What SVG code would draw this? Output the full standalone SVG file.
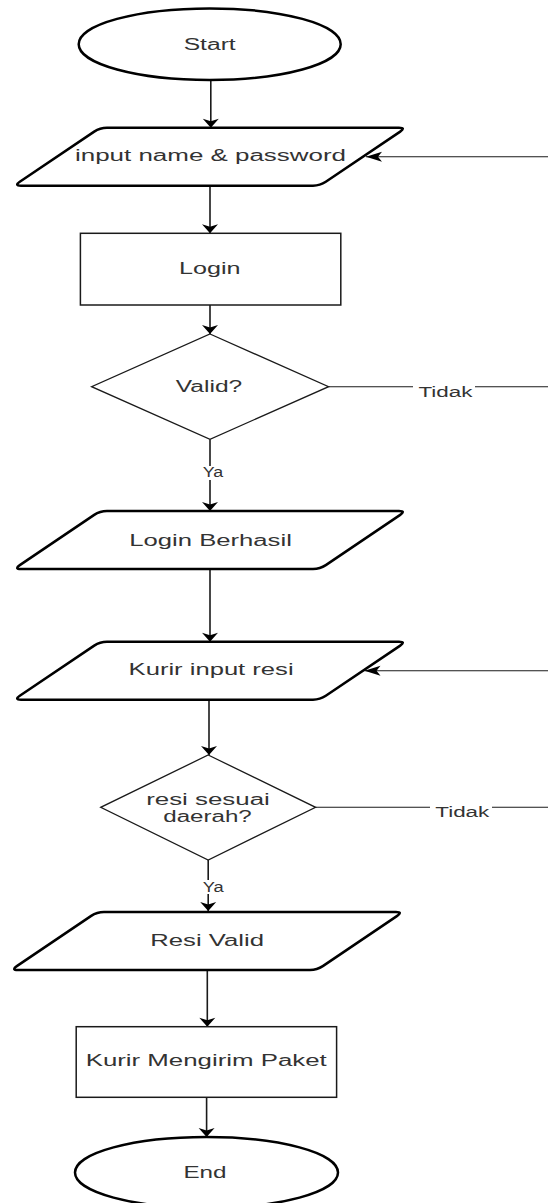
<svg xmlns="http://www.w3.org/2000/svg" xmlns:xlink="http://www.w3.org/1999/xlink" width="548" height="1203" viewBox="0 0 548 1203">
  <style>
    .bg { fill: #ffffff; }
    .term { fill: #ffffff; stroke: #000000; stroke-width: 2.5; }
    .io { fill: #ffffff; stroke: #000000; stroke-width: 2.5; }
    .proc { fill: #ffffff; stroke: #1a1a1a; stroke-width: 1.5; }
    .dec { fill: #ffffff; stroke: #1a1a1a; stroke-width: 1.3; }
    .edge { fill: none; stroke: #1a1a1a; stroke-width: 1.6; }
    .edge-h { fill: none; stroke: #1a1a1a; stroke-width: 1.1; }
    .lbl-bg { fill: #ffffff; }
    .t { font-family: "Liberation Sans", Arial, Helvetica, sans-serif; font-size: 16px; fill: #333333; text-anchor: middle; }
    .lbl { font-family: "Liberation Sans", Arial, Helvetica, sans-serif; font-size: 14px; fill: #333333; text-anchor: middle; }
  </style>
  <defs>
    <!-- wide, short head for downward connectors -->
    <marker id="arrV" markerUnits="userSpaceOnUse" orient="auto" refX="9" refY="0" markerWidth="12" markerHeight="20" overflow="visible">
      <path d="M0,-8 L9,0 L0,8 L2.5,0 Z" fill="#000000"/>
    </marker>
    <!-- long, narrow head for the horizontal return connectors -->
    <marker id="arrH" markerUnits="userSpaceOnUse" orient="auto" refX="16" refY="0" markerWidth="20" markerHeight="12" overflow="visible">
      <path d="M0,-5 L16,0 L0,5 L4,0 Z" fill="#000000"/>
    </marker>
    <!-- rounded input/output parallelogram, top edge at y=0 -->
    <path id="para" d="M21,58 Q14,58 19.8,54.1 L94.2,3.9 Q100,0 107,0 L399,0 Q406,0 400.2,3.9 L325.8,54.1 Q320,58 313,58 Z"/>
  </defs>

  <rect class="bg" x="0" y="0" width="548" height="1203"/>

  <g id="connectors">
    <line class="edge" x1="210.8" y1="80" x2="210.8" y2="127.7" marker-end="url(#arrV)"/>
    <line class="edge" x1="210" y1="185" x2="210" y2="233.3" marker-end="url(#arrV)"/>
    <line class="edge" x1="210" y1="305" x2="210" y2="334" marker-end="url(#arrV)"/>
    <line class="edge" x1="210" y1="439.3" x2="210" y2="511" marker-end="url(#arrV)"/>
    <line class="edge-h" x1="328.6" y1="386.7" x2="548" y2="386.7"/>
    <line class="edge-h" x1="548" y1="156.7" x2="366" y2="156.7" marker-end="url(#arrH)"/>
    <line class="edge" x1="210" y1="569.3" x2="210" y2="641.7" marker-end="url(#arrV)"/>
    <line class="edge-h" x1="548" y1="670.7" x2="364.5" y2="670.7" marker-end="url(#arrH)"/>
    <line class="edge" x1="209" y1="699.3" x2="209" y2="755" marker-end="url(#arrV)"/>
    <line class="edge-h" x1="315.6" y1="807.3" x2="548" y2="807.3"/>
    <line class="edge" x1="208.2" y1="860" x2="208.2" y2="911" marker-end="url(#arrV)"/>
    <line class="edge" x1="207.3" y1="970.7" x2="207.3" y2="1026.7" marker-end="url(#arrV)"/>
    <line class="edge" x1="206.6" y1="1097.3" x2="206.6" y2="1137" marker-end="url(#arrV)"/>

    <!-- branch labels -->
    <rect class="lbl-bg" x="201" y="466" width="24" height="14"/>
    <text class="lbl" x="213" y="477.3" textLength="20.5" lengthAdjust="spacingAndGlyphs">Ya</text>
    <rect class="lbl-bg" x="413" y="381" width="62" height="18"/>
    <text class="lbl" x="445.5" y="396.6" textLength="54" lengthAdjust="spacingAndGlyphs">Tidak</text>
    <rect class="lbl-bg" x="430" y="801.5" width="62" height="18"/>
    <text class="lbl" x="462.3" y="817.3" textLength="54" lengthAdjust="spacingAndGlyphs">Tidak</text>
    <rect class="lbl-bg" x="199" y="880" width="28" height="14"/>
    <text class="lbl" x="213.2" y="891.6" textLength="21" lengthAdjust="spacingAndGlyphs">Ya</text>
  </g>

  <g id="start">
    <ellipse class="term" cx="209.7" cy="44.2" rx="131" ry="35.8"/>
    <text class="t" x="209.7" y="49.8" textLength="52" lengthAdjust="spacingAndGlyphs">Start</text>
  </g>

  <g id="input-login">
    <use xlink:href="#para" class="io" transform="translate(0,127.7)"/>
    <text class="t" x="210.5" y="160.5" textLength="271" lengthAdjust="spacingAndGlyphs">input name &amp; password</text>
  </g>

  <g id="login">
    <rect class="proc" x="80.4" y="233.3" width="260.4" height="71.7"/>
    <text class="t" x="209.8" y="274" textLength="61.5" lengthAdjust="spacingAndGlyphs">Login</text>
  </g>

  <g id="valid">
    <polygon class="dec" points="210,334 328.6,386.7 210,439.3 91.6,386.7"/>
    <text class="t" x="209" y="392.4" textLength="66.4" lengthAdjust="spacingAndGlyphs">Valid?</text>
  </g>

  <g id="login-ok">
    <use xlink:href="#para" class="io" transform="translate(0,511)"/>
    <text class="t" x="210.6" y="545.5" textLength="162.5" lengthAdjust="spacingAndGlyphs">Login Berhasil</text>
  </g>

  <g id="input-resi">
    <use xlink:href="#para" class="io" transform="translate(0,641.7)"/>
    <text class="t" x="211.1" y="675.3" textLength="165" lengthAdjust="spacingAndGlyphs">Kurir input resi</text>
  </g>

  <g id="check-resi">
    <polygon class="dec" points="208.2,755 315.6,807.3 208.2,860 100.7,807.3"/>
    <text class="t" x="208" y="804.6" textLength="123.7" lengthAdjust="spacingAndGlyphs">resi sesuai</text>
    <text class="t" x="207.5" y="821.8" textLength="88.5" lengthAdjust="spacingAndGlyphs">daerah?</text>
  </g>

  <g id="resi-valid">
    <use xlink:href="#para" class="io" transform="translate(-3,912)"/>
    <text class="t" x="207.1" y="945.8" textLength="113.6" lengthAdjust="spacingAndGlyphs">Resi Valid</text>
  </g>

  <g id="kirim">
    <rect class="proc" x="76.2" y="1026.7" width="260.4" height="70.6"/>
    <text class="t" x="206.2" y="1066" textLength="241" lengthAdjust="spacingAndGlyphs">Kurir Mengirim Paket</text>
  </g>

  <g id="end">
    <ellipse class="term" cx="206.5" cy="1172.5" rx="131.5" ry="35.5"/>
    <text class="t" x="205" y="1178" textLength="43" lengthAdjust="spacingAndGlyphs">End</text>
  </g>
</svg>
